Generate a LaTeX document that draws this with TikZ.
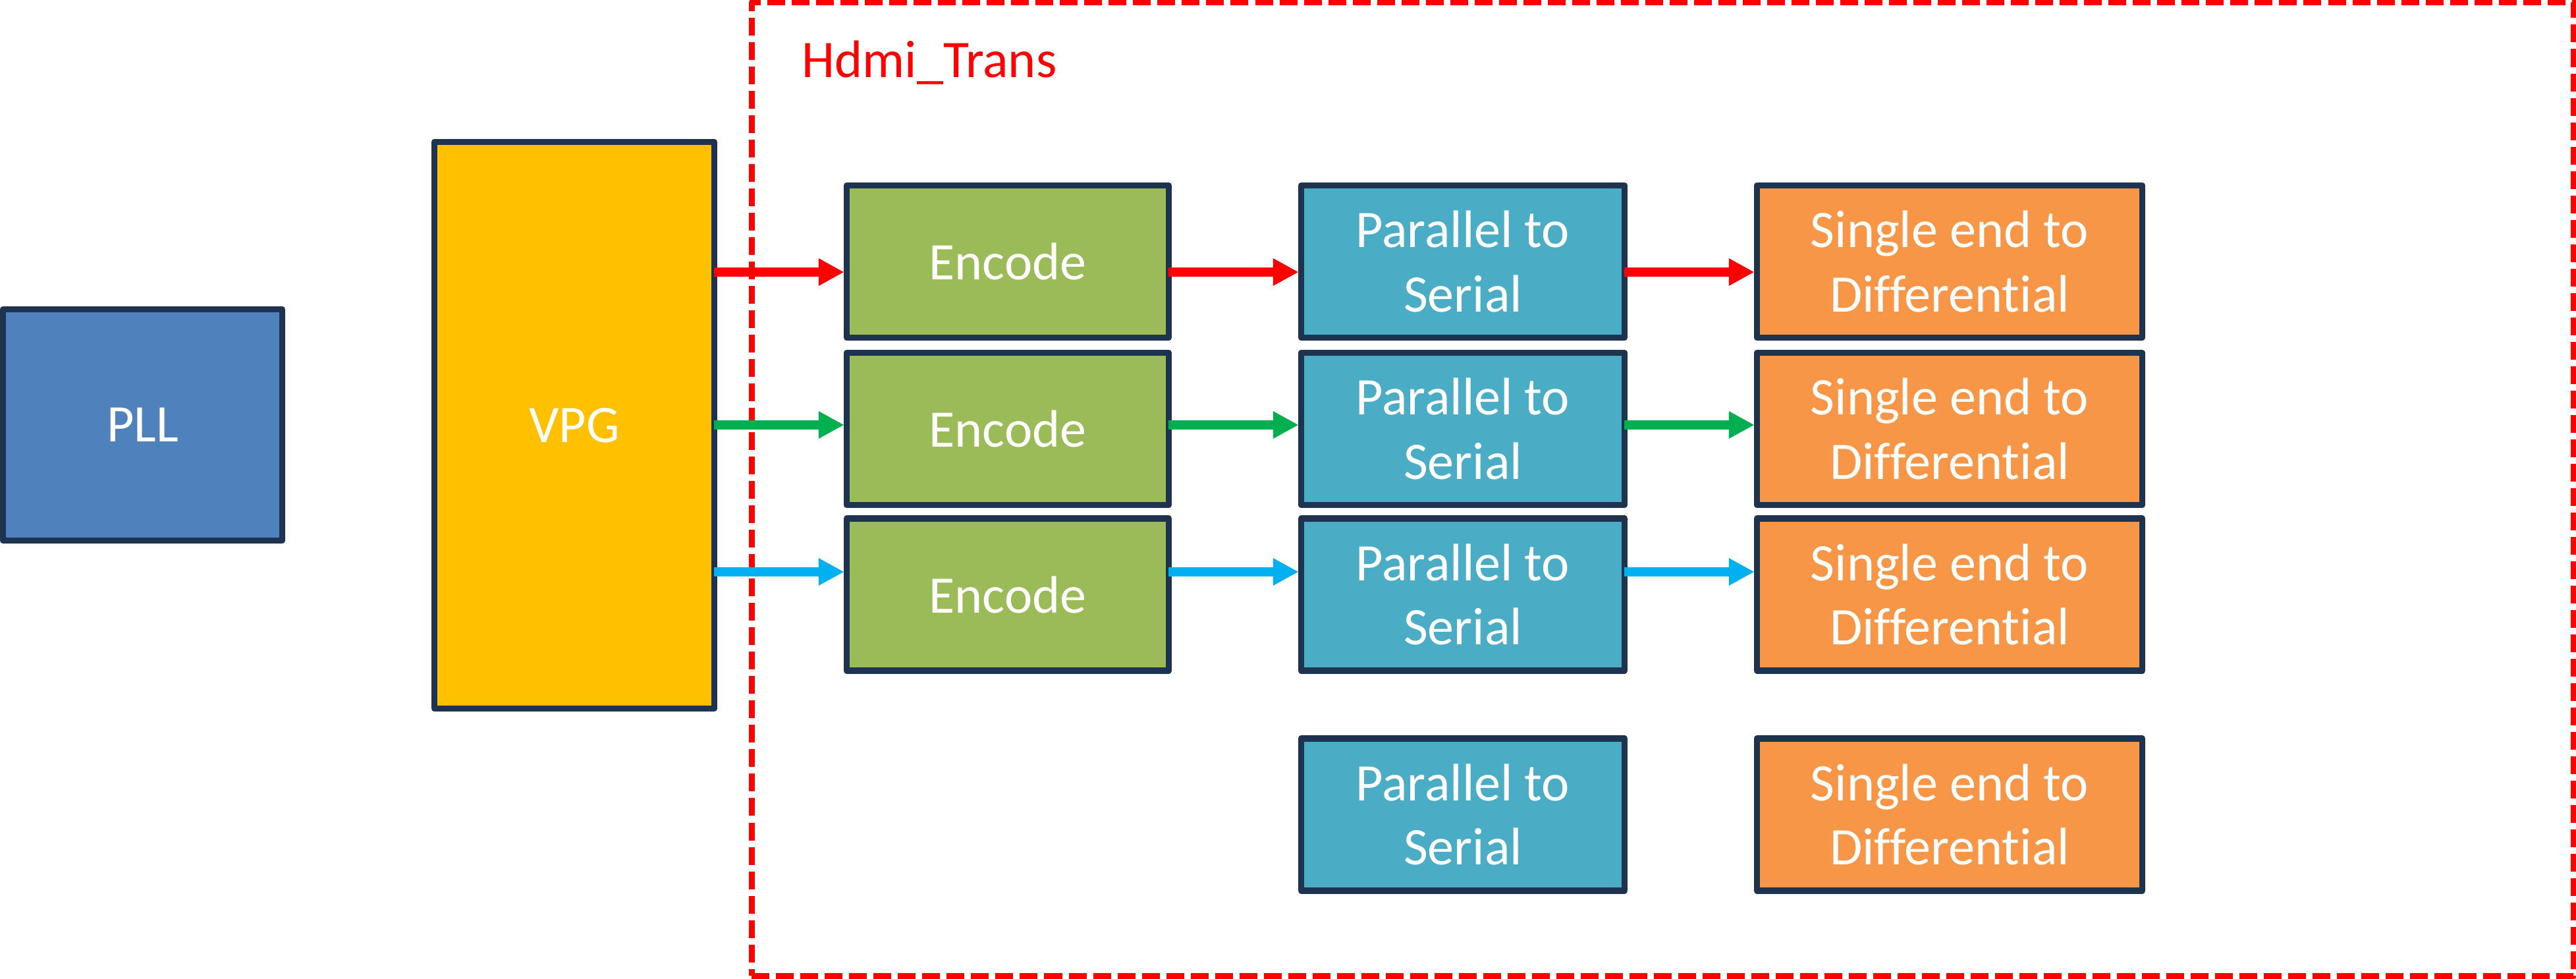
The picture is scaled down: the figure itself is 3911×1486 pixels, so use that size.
\documentclass[tikz,border=0pt]{standalone}
\usepackage{fontspec}
\setmainfont{Carlito}[RawFeature={-liga}]
\usetikzlibrary{arrows.meta}
\definecolor{edgec}{HTML}{1E3350}
\definecolor{pllc}{HTML}{4F81BD}
\definecolor{vpgc}{HTML}{FFC000}
\definecolor{encc}{HTML}{9BBB59}
\definecolor{p2sc}{HTML}{4BACC6}
\definecolor{sedc}{HTML}{F79646}
\definecolor{arrred}{HTML}{FF0000}
\definecolor{arrgreen}{HTML}{00B050}
\definecolor{arrblue}{HTML}{00B0F0}
\begin{document}
\begin{tikzpicture}[x=0.01cm,y=-0.01cm,
  box/.style={draw=edgec, line width=0.095cm, line join=round, text=white,
    font=\fontsize{22.8pt}{27.74pt}\selectfont, align=center, inner sep=0pt,
    outer sep=0.0475cm},
  encbox/.style={box, fill=encc, minimum width=4.885cm, minimum height=2.31cm},
  p2sbox/.style={box, fill=p2sc, minimum width=4.905cm, minimum height=2.31cm},
  sedbox/.style={box, fill=sedc, minimum width=5.845cm, minimum height=2.31cm},
  arr/.style={line width=0.14cm, -{Triangle[length=0.38cm,width=0.42cm,line width=0pt]}, shorten <=-0.05cm}
]
\useasboundingbox (0,0) rectangle (3911,1486);

% dashed frame
\node[draw=arrred, line width=0.09cm, dash pattern=on 0.27cm off 0.10cm, line join=round,
  minimum width=27.65cm, minimum height=14.77cm, inner sep=0pt] (hdmi) at (2524.5,742.5) {};
\node[anchor=base west, text=arrred, font=\fontsize{22.8pt}{27.74pt}\selectfont, inner sep=0pt] (hdmilabel) at (1217,118) {Hdmi\_Trans};

\node[box, fill=pllc, minimum width=4.235cm, minimum height=3.505cm] (pll) at (216.5,645) {PLL};
\node[box, fill=vpgc, minimum width=4.245cm, minimum height=8.595cm] (vpg) at (872,645.5) {VPG};

\node[encbox] (enc1) at (1530,397) {Encode};
\node[encbox] (enc2) at (1530,651) {Encode};
\node[encbox] (enc3) at (1530,902.5) {Encode};

\node[p2sbox] (p2s1) at (2221,397) {Parallel to\\Serial};
\node[p2sbox] (p2s2) at (2221,651) {Parallel to\\Serial};
\node[p2sbox] (p2s3) at (2221,902.5) {Parallel to\\Serial};
\node[p2sbox] (p2s4) at (2221,1236.5) {Parallel to\\Serial};

\node[sedbox] (sed1) at (2960,397) {Single end to\\Differential};
\node[sedbox] (sed2) at (2960,651) {Single end to\\Differential};
\node[sedbox] (sed3) at (2960,902.5) {Single end to\\Differential};
\node[sedbox] (sed4) at (2960,1236.5) {Single end to\\Differential};

\coordinate (yr) at (0,413);
\coordinate (yg) at (0,645);
\coordinate (yb) at (0,868);

\draw[arr, arrred] (vpg.east |- yr) -- (enc1.west |- yr);
\draw[arr, arrgreen] (vpg.east |- yg) -- (enc2.west |- yg);
\draw[arr, arrblue] (vpg.east |- yb) -- (enc3.west |- yb);

\draw[arr, arrred] (enc1.east |- yr) -- (p2s1.west |- yr);
\draw[arr, arrgreen] (enc2.east |- yg) -- (p2s2.west |- yg);
\draw[arr, arrblue] (enc3.east |- yb) -- (p2s3.west |- yb);

\draw[arr, arrred] (p2s1.east |- yr) -- (sed1.west |- yr);
\draw[arr, arrgreen] (p2s2.east |- yg) -- (sed2.west |- yg);
\draw[arr, arrblue] (p2s3.east |- yb) -- (sed3.west |- yb);
\end{tikzpicture}
\end{document}
